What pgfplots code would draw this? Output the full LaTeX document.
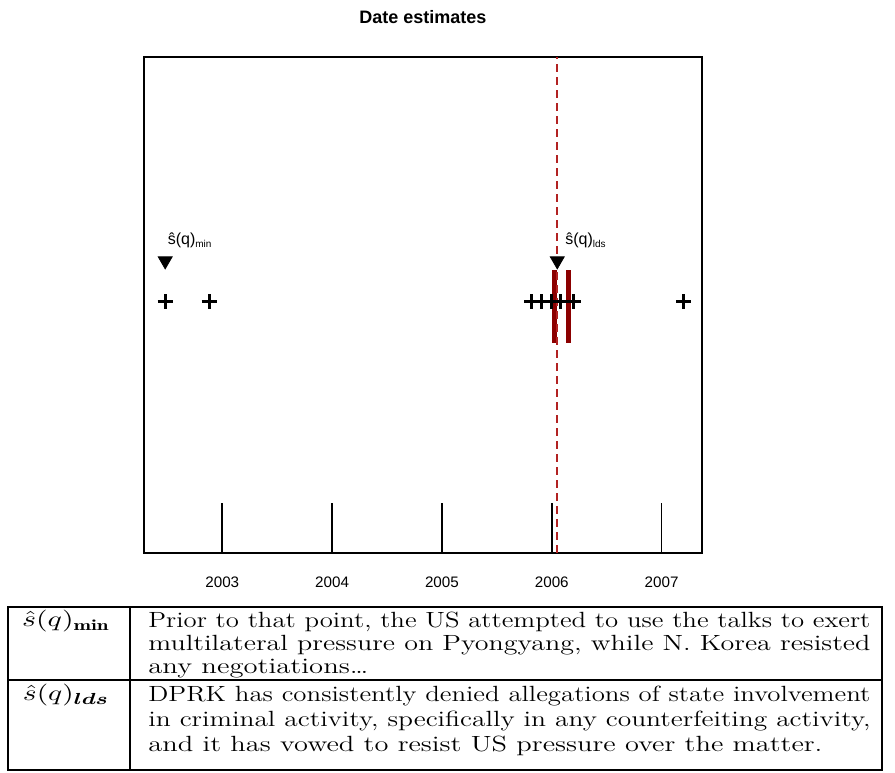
\documentclass[border=0pt]{standalone}
\usepackage{amsmath}
\usepackage{graphicx}
\usepackage{fontspec}
\usepackage{pgfplots}
\pgfplotsset{compat=1.18}
\newfontfamily\plotfont{Liberation Sans}
\definecolor{barred}{RGB}{139,0,0}
\definecolor{dashred}{RGB}{178,34,34}
\newcommand\tabfont{\fontsize{11}{12}\selectfont}
\newcommand\tl[4]{\node[anchor=base west, inner sep=0] at (#1,#2) {\tabfont\resizebox{#3}{\height}{#4}};}
\begin{document}
\begin{tikzpicture}
\path[use as bounding box] (0,0) rectangle (447.5pt,386pt);
\begin{axis}[
  at={(72pt,109.5pt)}, anchor=south west,
  width=279pt, height=248pt, scale only axis,
  xmin=2002.287, xmax=2007.368, ymin=0, ymax=1,
  xtick={2003,2004,2005,2006,2007},
  ytick=\empty,
  xtick pos=left,
  tick align=inside,
  major tick length=25pt,
  every tick/.style={black, line width=0.9pt},
  axis line style={line width=1pt},
  /pgf/number format/1000 sep={},
  /pgf/number format/assume math mode=true,
  xticklabel style={font=\plotfont\fontsize{7.6}{8}\selectfont, anchor=center, yshift=-14.5pt},
  title={Date estimates},
  title style={font=\plotfont\bfseries\fontsize{9}{10}\selectfont, anchor=center, at={(0.5,1)}, yshift=14pt},
]
\addplot[only marks, mark=+, mark size=3.75pt, mark options={line width=1.5pt, black}] coordinates {
  (2002.48,0.507) (2002.88,0.507)
  (2005.82,0.507) (2005.91,0.507) (2006.00,0.507)
  (2006.08,0.507) (2006.20,0.507)
  (2007.20,0.507)
};
\addplot[barred, line width=2.5pt] coordinates {(2006.021,0.4234) (2006.021,0.5706)};
\addplot[barred, line width=2.5pt] coordinates {(2006.148,0.4234) (2006.148,0.5706)};
\addplot[dashred, line width=1pt, dash pattern=on 4pt off 2.5pt] coordinates {(2006.05,0) (2006.05,1)};
\addplot[only marks, mark=triangle*, mark size=4pt, mark options={rotate=180, fill=black, draw=black}] coordinates {(2002.48,0.589) (2006.05,0.589)};
\node[anchor=west, inner sep=0, font=\plotfont\fontsize{8}{9}\selectfont] at (axis cs:2002.50,0.631) {ŝ(q)\raisebox{-0.4ex}{\fontsize{5}{5}\selectfont min}};
\node[anchor=west, inner sep=0, font=\plotfont\fontsize{8}{9}\selectfont] at (axis cs:2006.12,0.631) {ŝ(q)\raisebox{-0.4ex}{\fontsize{5}{5}\selectfont lds}};
\end{axis}
% table
\draw[line width=0.8pt] (4pt,1pt) rectangle (441pt,82.5pt);
\draw[line width=0.8pt] (4pt,46pt) -- (441pt,46pt);
\draw[line width=0.8pt] (65pt,1pt) -- (65pt,82.5pt);
\node[anchor=base, inner sep=0] at (33pt,72.5pt) {\tabfont\resizebox{44pt}{\height}{$\hat{s}(q)_{\mathbf{min}}$}};
\node[anchor=base, inner sep=0] at (33pt,35.5pt) {\tabfont\resizebox{43pt}{\height}{$\hat{s}(q)_{\boldsymbol{lds}}$}};
\tl{74pt}{72.5pt}{361pt}{Prior to that point, the US attempted to use the talks to exert}
\tl{74pt}{60.75pt}{361pt}{multilateral pressure on Pyongyang, while N. Korea resisted}
\tl{74pt}{49pt}{110pt}{any negotiations\ldots}
\tl{74pt}{35.5pt}{361pt}{DPRK has consistently denied allegations of state involvement}
\tl{74pt}{23pt}{361pt}{in criminal activity, specifically in any counterfeiting activity,}
\tl{74pt}{10.5pt}{337pt}{and it has vowed to resist US pressure over the matter.}
\end{tikzpicture}
\end{document}
